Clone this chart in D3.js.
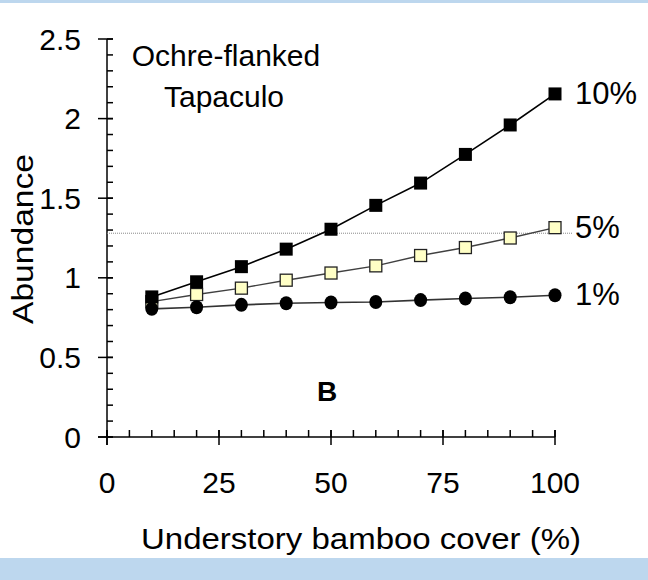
<!DOCTYPE html>
<html>
<head>
<meta charset="utf-8">
<script src="https://cdn.jsdelivr.net/npm/d3@7"></script>
<style>
  html, body { margin: 0; padding: 0; background: #fff; }
  svg { display: block; }
  text { font-family: "Liberation Sans", Arial, sans-serif; fill: #000; }
</style>
</head>
<body>
<svg id="chart" width="648" height="580"></svg>
<script>
// Understory bamboo cover (%)
const cover = [10, 20, 30, 40, 50, 60, 70, 80, 90, 100];
// Predicted abundance for each level
const abund10 = [0.88, 0.975, 1.07, 1.18, 1.305, 1.455, 1.595, 1.775, 1.96, 2.155];
const abund5  = [0.85, 0.895, 0.935, 0.985, 1.03, 1.075, 1.14, 1.19, 1.25, 1.315];
const abund1  = [0.805, 0.815, 0.83, 0.84, 0.845, 0.848, 0.86, 0.87, 0.878, 0.89];
const seriesNames = ["10%", "5%", "1%"];
const refLevel = 1.28;
const xTicks = [0, 25, 50, 75, 100];
const yTicks = [0, 0.5, 1, 1.5, 2, 2.5];
const yTickLabels = ["0", "0.5", "1", "1.5", "2", "2.5"];

const svg = d3.select("#chart");
const W = 648, H = 580;

// frame bands
svg.append("rect").attr("x", 0).attr("y", 0).attr("width", W).attr("height", 3).attr("fill", "#bdd7ee");
svg.append("rect").attr("x", 0).attr("y", 558).attr("width", W).attr("height", 22).attr("fill", "#bdd7ee");

const x = d3.scaleLinear().domain([0, 100]).range([107, 555]);
const y = d3.scaleLinear().domain([0, 2.5]).range([437, 39]);

const axisG = svg.append("g").attr("stroke", "#000").attr("stroke-width", 1.5);

// y axis line and ticks
axisG.append("line").attr("x1", x(0)).attr("x2", x(0)).attr("y1", y(2.5)).attr("y2", y(0) + 8);
const yMinor = d3.range(0, 2.51, 0.1).map(v => +v.toFixed(2));
axisG.selectAll(".ymin").data(yMinor).join("line")
  .attr("x1", x(0)).attr("x2", x(0) + 6)
  .attr("y1", d => y(d)).attr("y2", d => y(d));
axisG.selectAll(".ymaj").data(yTicks).join("line")
  .attr("x1", x(0) - 9).attr("x2", x(0) + 6)
  .attr("y1", d => y(d)).attr("y2", d => y(d));

// x axis line and ticks
axisG.append("line").attr("x1", x(0) - 9).attr("x2", x(100)).attr("y1", y(0)).attr("y2", y(0));
const xMinor = d3.range(0, 101, 5);
axisG.selectAll(".xmin").data(xMinor).join("line")
  .attr("x1", d => x(d)).attr("x2", d => x(d))
  .attr("y1", y(0)).attr("y2", y(0) - 7);
axisG.selectAll(".xmaj").data(xTicks).join("line")
  .attr("x1", d => x(d)).attr("x2", d => x(d))
  .attr("y1", y(0) - 7).attr("y2", y(0) + 8);

// tick labels
svg.selectAll(".ylab").data(yTicks).join("text")
  .attr("x", 81).attr("y", d => y(d) + 10.5)
  .attr("text-anchor", "end").attr("font-size", 30)
  .text((d, i) => yTickLabels[i]);
svg.selectAll(".xlab").data(xTicks).join("text")
  .attr("x", d => x(d)).attr("y", 493)
  .attr("text-anchor", "middle").attr("font-size", 30)
  .text(d => d);

// axis titles
svg.append("text").attr("transform", "translate(33,239) rotate(-90)")
  .attr("text-anchor", "middle").attr("font-size", 30)
  .attr("textLength", 170).attr("lengthAdjust", "spacingAndGlyphs")
  .text("Abundance");
svg.append("text").attr("x", 361).attr("y", 549)
  .attr("text-anchor", "middle").attr("font-size", 30)
  .attr("textLength", 440).attr("lengthAdjust", "spacingAndGlyphs")
  .text("Understory bamboo cover (%)");

// reference level
svg.append("line").attr("x1", x(0)).attr("x2", x(104))
  .attr("y1", y(refLevel)).attr("y2", y(refLevel))
  .attr("stroke", "#8a8a8a").attr("stroke-width", 1).attr("stroke-dasharray", "1,1");

const line = d3.line().x(d => x(d[0])).y(d => y(d[1]));
const pts = arr => cover.map((c, i) => [c, arr[i]]);

// 5% series (drawn first, beneath the others)
svg.append("path").datum(pts(abund5)).attr("d", line)
  .attr("fill", "none").attr("stroke", "#404040").attr("stroke-width", 1.4);
svg.selectAll(".m5").data(pts(abund5)).join("rect")
  .attr("x", d => x(d[0]) - 6).attr("y", d => y(d[1]) - 6)
  .attr("width", 12).attr("height", 12)
  .attr("fill", "#ffffc6").attr("stroke", "#222").attr("stroke-width", 1.3);

// 1% series
svg.append("path").datum(pts(abund1)).attr("d", line)
  .attr("fill", "none").attr("stroke", "#333").attr("stroke-width", 1.6);
svg.selectAll(".m1").data(pts(abund1)).join("ellipse")
  .attr("cx", d => x(d[0])).attr("cy", d => y(d[1]))
  .attr("rx", 6.5).attr("ry", 7).attr("fill", "#000");

// 10% series
svg.append("path").datum(pts(abund10)).attr("d", line)
  .attr("fill", "none").attr("stroke", "#000").attr("stroke-width", 1.6);
svg.selectAll(".m10").data(pts(abund10)).join("rect")
  .attr("x", d => x(d[0]) - 6.5).attr("y", d => y(d[1]) - 6.5)
  .attr("width", 13).attr("height", 13).attr("fill", "#000");

// series labels
const ends = [abund10[9], abund5[9], abund1[9]];
svg.selectAll(".slab").data(seriesNames).join("text")
  .attr("x", 575).attr("y", (d, i) => y(ends[i]) + 10)
  .attr("font-size", 31).text(d => d);

// species name and panel letter
svg.append("text").attr("x", 226).attr("y", 66).attr("text-anchor", "middle")
  .attr("font-size", 30).text("Ochre-flanked");
svg.append("text").attr("x", 224).attr("y", 107).attr("text-anchor", "middle")
  .attr("font-size", 30).text("Tapaculo");
svg.append("text").attr("x", 317).attr("y", 401)
  .attr("font-size", 28).attr("font-weight", "bold").text("B");
</script>
</body>
</html>
